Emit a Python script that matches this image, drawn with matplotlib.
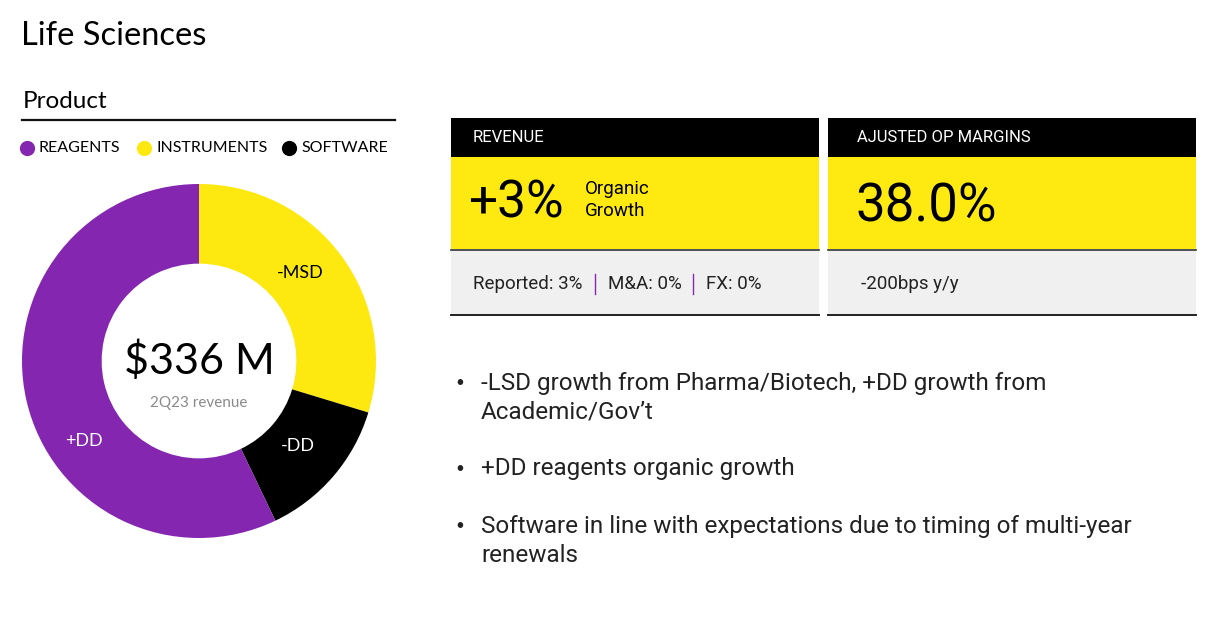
import matplotlib
matplotlib.use('Agg')
import matplotlib.pyplot as plt
from matplotlib.patches import Rectangle

# Data
segments = ['REAGENTS', 'INSTRUMENTS', 'SOFTWARE']
shares = [57.1, 29.7, 13.2]
growth_labels = ['+DD', '-MSD', '-DD']
colors = ['#8526B0', '#FDE910', '#000000']
total_label = '$336 M'
total_sub = '2Q23 revenue'

revenue_growth = '+3%'
op_margin = '38.0%'
revenue_detail = ['Reported: 3%', 'M&A: 0%', 'FX: 0%']
margin_detail = '-200bps y/y'
bullets = ['-LSD growth from Pharma/Biotech, +DD growth from\nAcademic/Gov\u2019t',
           '+DD reagents organic growth',
           'Software in line with expectations due to timing of multi-year\nrenewals']

W, H = 1214, 622
plt.rcParams['font.family'] = ['Lato', 'DejaVu Sans']
narrow = ['Roboto', 'DejaVu Sans']

fig = plt.figure(figsize=(W / 100, H / 100), dpi=100)
fig.patch.set_facecolor('white')

# page axes in pixel coordinates
ax = fig.add_axes([0, 0, 1, 1])
ax.set_xlim(0, W)
ax.set_ylim(H, 0)
ax.axis('off')

ax.text(21, 36, 'Life Sciences', fontsize=23.5, va='center', ha='left', color='black')
ax.text(23, 102, 'Product', fontsize=17.5, va='center', ha='left', color='black')
ax.plot([22, 395], [120, 120], color='#111111', lw=1.6)

# legend: dot + label
for xm, seg, c in zip([27, 144, 289], segments, colors):
    ax.scatter([xm], [148], s=120, color=c, lw=0)
    ax.text(xm + 12, 148, seg, fontsize=11.5, va='center', ha='left', color='black')

# KPI cards
for x0, x1 in [(451, 819), (828, 1196)]:
    ax.add_patch(Rectangle((x0, 118), x1 - x0, 39, color='black', lw=0))
    ax.add_patch(Rectangle((x0, 157), x1 - x0, 92, color='#FEEA10', lw=0))
    ax.add_patch(Rectangle((x0, 250), x1 - x0, 65, color='#F0F0F0', lw=0))
    ax.plot([x0, x1], [249.5, 249.5], color='#333333', lw=1.2)
    ax.plot([x0, x1], [315, 315], color='#222222', lw=1.4)

ax.text(473, 138, 'REVENUE', color='white', fontsize=12, va='center', family=narrow)
ax.text(857, 138, 'AJUSTED OP MARGINS', color='white', fontsize=12, va='center', family=narrow)
ax.text(468, 204, revenue_growth, fontsize=37, va='center', family=narrow)
ax.text(585, 200, 'Organic\nGrowth', fontsize=13.5, va='center', linespacing=1.25, family=narrow)
ax.text(855, 207, op_margin, fontsize=38, va='center', family=narrow)

# revenue detail row with purple separators
x = 473
for i, part in enumerate(revenue_detail):
    t = ax.text(x, 284, part, fontsize=13.5, va='center', color='#222222', family=narrow)
    fig.canvas.draw()
    x = t.get_window_extent().x1
    if i < len(revenue_detail) - 1:
        ax.plot([x + 12, x + 12], [274, 294], color='#8526B0', lw=1)
        x += 25
ax.text(861, 284, margin_detail, fontsize=13.5, va='center', color='#222222', family=narrow)

# bullets
for y_dot, y_txt, b in zip([383, 469, 526], [398, 469, 541], bullets):
    ax.text(455, y_dot, '\u2022', fontsize=11, va='center', color='#222222')
    ax.text(481, y_txt, b, fontsize=17.5, va='center', color='#222222',
            linespacing=1.28, family=narrow)

# donut
cx, cy, r = 199, 361, 177
pax = fig.add_axes([(cx - r) / W, 1 - (cy + r) / H, 2 * r / W, 2 * r / H])
order = [1, 2, 0]
wedges, texts = pax.pie([shares[i] for i in order], colors=[colors[i] for i in order],
                        labels=[growth_labels[i] for i in order], labeldistance=0.74,
                        startangle=90, counterclock=False,
                        wedgeprops=dict(width=0.45, linewidth=0),
                        textprops=dict(fontsize=13, ha='center', va='center'))
for t, i in zip(texts, order):
    t.set_color('white' if i != 1 else 'black')
texts[0].set_position((0.57, 0.5))
texts[2].set_position((-0.65, -0.45))
pax.set_xlim(-1, 1)
pax.set_ylim(-1, 1)
pax.set_aspect('equal')
pax.text(0, 0.0, total_label, fontsize=31, ha='center', va='center', color='black')
pax.text(0, -0.235, total_sub, fontsize=11, ha='center', va='center', color='#8a8a8a')

fig.savefig('out.png', dpi=100, facecolor='white')
